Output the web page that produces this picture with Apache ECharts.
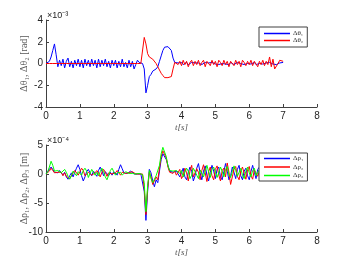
<!DOCTYPE html>
<html><head><meta charset="utf-8">
<script src="https://cdn.jsdelivr.net/npm/echarts@6/dist/echarts.min.js"></script>
<style>html,body{margin:0;padding:0;background:#fff}#c{width:350px;height:264px}</style>
</head><body><div id="c"></div>
<script>
// time step of samples (s)
const dt = 0.05;
const xTicks = [0,1,2,3,4,5,6,7,8];
const yTicksTop = [-4,-2,0,2,4];
const yTicksBottom = [-10,-5,0,5];
// Δθ (×10^-3 rad)
const theta1 = [
 0,0,0.2,0.6,1.2,1.8,0.8,-0.3,0.3,-0.2,
 0.4,-0.4,0.2,0.5,-0.3,0.2,-0.4,0.3,-0.2,0.4,
 -0.3,0.3,-0.4,0.4,-0.2,0.3,-0.3,0.4,-0.2,0.3,
 -0.4,0.4,-0.3,0.3,-0.2,0.4,-0.3,0.2,-0.4,0.3,
 -0.2,0.3,-0.4,0.2,-0.3,0.4,-0.3,0.1,-0.4,0.3,
 -0.3,0.2,-0.5,-0.1,0.3,0.1,0,0,-0.5,-2.7,
 -2.0,-1.2,-1.0,-0.7,-0.8,-0.5,-0.3,0.2,0.7,1.2,
 1.5,1.6,1.55,1.5,1.2,0.5,0.1,0,0.05,-0.05,
 0.1,-0.1,0.05,0.1,-0.1,0,0.1,-0.05,0.05,-0.1,
 0.05,0.1,-0.1,0,0.1,-0.05,0.05,-0.1,0.1,0,
 -0.05,0.1,-0.1,0.05,0,0.1,-0.05,0.05,-0.1,0.1,
 0,-0.1,0.05,0.1,-0.05,0,0.1,-0.1,0.05,0,
 0.1,-0.05,0,0.1,-0.1,0.05,0,0.1,-0.05,0,
 0.05,-0.1,0.1,0,-0.05,0.1,-0.1,0,0.05,0.1,
 0.1];
const theta2 = [
 0,0,0,0,0,0,0,0,0,0,
 0,0,0,0,0,0,0,0,0,0,
 0,0,0,0,0,0,0,0,0,0,
 0,0,0,0,0,0,0,0,0,0,
 0,0,0,0,0,0,0,0,0,0,
 0,0,0,0,0,0,0,0,2.4,1.8,
 0.9,0.6,0.5,0.4,0.3,0.0,-0.3,-0.6,-0.9,-1.1,
 -1.3,-1.35,-1.3,-1.4,-1.2,-0.5,0.1,0.2,-0.1,0.2,
 -0.2,0.3,-0.1,0.2,-0.3,0.1,0.3,-0.2,0.2,-0.1,
 0.3,-0.2,0.1,0.3,-0.3,0.2,0.1,-0.2,0.3,-0.1,
 0.2,-0.3,0.3,0.1,-0.2,0.3,-0.1,0.2,-0.3,0.2,
 0.1,-0.2,0.3,-0.1,0.2,-0.3,0.3,0.1,-0.2,0.2,
 -0.1,0.3,-0.2,0.2,0.1,-0.3,0.2,-0.1,0.3,-0.2,
 0.2,-0.1,0.6,-0.3,0.4,-0.5,-0.5,0.0,0.3,0.4,
 0.2];
// Δρ (×10^-4 m)
const rho1 = [
 0,0.3,0.8,1.2,0.8,0.3,0.5,0.2,0.6,0.4,
 -0.2,0.3,-0.5,-0.9,-0.3,0.2,-0.5,0.3,1.0,1.6,
 0.8,-0.3,-1.2,-0.5,0.4,0.8,0.2,-0.3,0.5,0.3,
 -0.4,0.6,1.2,0.5,-0.3,0.4,0.2,-0.3,0.3,-0.2,
 0.4,0.2,-0.2,0.8,1.6,0.9,0.2,0.4,0.1,0.3,
 0.5,0.3,0,0.1,0,-0.1,0,-0.2,-3,-8,
 -3,0.8,0.2,-1.2,-2.2,-1.0,-1.5,0.5,2.5,3.5,
 3.6,2.5,1.5,0.5,0.2,0.3,0.1,0.5,0,-0.5,
 0.2,1.0,-0.5,-1.0,0.3,1.2,0.5,-1.2,-0.3,1.0,
 1.8,0.2,-1.0,0.5,1.4,-0.2,-1.2,0.3,1.5,0.5,
 -0.8,0.8,1.2,-0.5,-1.0,0.4,1.8,0.5,-1.0,-0.3,
 1.2,0.3,-0.8,0.8,1.5,-0.3,-1.0,0.5,1.0,-0.3,
 -1.0,0.4,1.5,0.3,-0.8,0.8,1.2,0.2,-0.5,0.6,
 1.0,-0.4,-0.8,0.5,0.9,-0.2,-0.6,0.4,0.7,0,
 0.2];
const rho2 = [
 0,0.2,0.5,1.0,0.6,0.2,0.4,0.3,0.1,0.3,
 -0.3,0.2,-0.4,-0.2,-0.8,-0.3,0.2,0.6,0.3,-0.2,
 0.4,1.0,0.6,-0.3,-0.6,0.3,0.6,-0.2,-0.5,0.2,
 0.6,0.2,-0.5,0.3,0.8,0.3,-0.4,0.2,0.5,0,
 -0.3,0.2,0.6,0.2,-0.2,0.3,0.5,0.1,0.3,0.2,
 0.2,0.4,0.1,0,0.1,0,-0.1,0,-2.5,-7,
 -2.5,0.3,-0.5,-1.8,-2.0,-0.5,-1.0,1.0,3.0,4.0,
 4.0,2.8,1.2,0.3,0.4,0.1,0.5,-0.2,0.3,0.8,
 -0.8,-0.3,1.0,0.2,-1.2,0.5,1.5,-0.5,-0.8,0.9,
 0.3,-1.0,0.6,1.6,0.2,-1.3,0.4,1.2,-0.3,-1.0,
 0.8,1.4,-0.2,-1.2,0.6,1.0,-0.5,1.9,0.3,-1.8,
 -0.5,0.8,1.3,-0.4,-1.0,0.5,1.2,0.1,-0.9,0.7,
 1.3,-0.3,-0.9,0.7,1.0,-0.4,0.5,1.4,0.0,-0.8,
 0.4,1.1,-0.2,-0.7,0.6,0.8,-0.4,0.2,0.6,0,
 0.1];
const rho3 = [
 0,0.4,1.2,2.2,1.5,0.5,0.3,0.6,0.8,0.2,
 0.4,0.8,0.3,-0.4,-0.9,-0.3,0.5,0.2,-0.3,0.4,
 0.3,-0.2,0.6,1.0,0.5,-0.6,-0.3,0.8,0.5,-0.2,
 0.3,-0.3,0.4,1.0,0.3,-0.5,-1.0,-0.2,0.6,1.0,
 0.4,-0.2,0.2,0.5,0.3,-0.2,0.1,0.4,0.2,0.1,
 0.3,0.1,0.2,0,0,0.1,0,-0.1,-1.5,-6.5,
 -2.0,0.6,-0.8,-1.5,-1.6,-0.3,-0.6,1.5,3.5,4.6,
 4.4,3.0,1.4,0.6,0.3,0.5,0.2,0.6,0.8,0.1,
 0.6,-0.5,0.3,1.0,0.5,-0.8,-0.2,1.0,1.3,-0.2,
 -0.8,0.7,1.0,-0.5,-0.2,1.5,0.4,-0.6,0.8,1.2,
 0.3,-0.6,0.2,1.2,0.5,-0.5,0.8,1.3,-0.2,-0.6,
 0.4,1.4,0.6,-0.4,0.3,1.0,-0.2,-0.8,0.5,1.2,
 0.2,-0.5,0.6,1.0,-0.3,-0.2,0.8,0.5,-0.6,0.2,
 1.0,0.3,-0.5,0.2,0.8,0.0,-0.3,0.5,0.2,-0.1,
 0];
const names = ['Δθ₁','Δθ₂','Δρ₁','Δρ₂','Δρ₃'];
const colors = ['#0000ff','#ff0000','#0000ff','#ff0000','#00ff00'];

const pair = arr => arr.map((v,i)=>[+(i*dt).toFixed(2), v]);
const axCol = '#404040', txtCol = '#262626';
const serif = '"Liberation Serif","DejaVu Serif",serif';
const sans = '"Liberation Sans",Arial,sans-serif';

function xAx(gi){
  return {type:'value', gridIndex:gi, min:xTicks[0], max:xTicks[xTicks.length-1], interval:1,
    name:'t[s]', nameLocation:'middle', nameGap:16,
    nameTextStyle:{fontFamily:serif,fontSize:9,color:'#555',fontStyle:'italic'},
    axisLine:{onZero:false,lineStyle:{color:axCol,width:1}},
    axisTick:{inside:true,length:3,lineStyle:{color:axCol}},
    axisLabel:{fontFamily:sans,fontSize:10,color:txtCol,margin:4},
    splitLine:{show:false}};
}
function yAx(gi,ticks,name){
  return {type:'value', gridIndex:gi, min:ticks[0], max:ticks[ticks.length-1], interval:ticks[1]-ticks[0],
    name:name, nameLocation:'middle', nameGap:17, nameRotate:90, nameMoveOverlap:false,
    nameTextStyle:{fontFamily:serif,fontSize:10,color:'#555'},
    axisLine:{show:true,lineStyle:{color:axCol,width:1}},
    axisTick:{show:true,inside:true,length:3,lineStyle:{color:axCol}},
    axisLabel:{fontFamily:sans,fontSize:10,color:txtCol,margin:3},
    splitLine:{show:false}};
}
function ser(i,arr,xi){
  return {type:'line', name:names[i], xAxisIndex:xi, yAxisIndex:xi, data:pair(arr),
    showSymbol:false, symbol:'none', animation:false,
    lineStyle:{color:colors[i],width:1}, itemStyle:{color:colors[i]}};
}
const legendBase = {orient:'vertical', backgroundColor:'#fff', borderColor:'#404040', borderWidth:1,
  padding:[3,4,3,5], itemGap:0, itemWidth:26, itemHeight:1.5, icon:'rect',
  textStyle:{fontFamily:serif,fontSize:7,color:txtCol,padding:[0,0,0,-2]}};

const chart = echarts.init(document.getElementById('c'),null,{renderer:'canvas'});
chart.setOption({
  animation:false,
  grid:[{left:46,top:20,width:271,height:87},{left:46,top:145,width:271,height:87}],
  xAxis:[xAx(0),xAx(1)],
  yAxis:[yAx(0,yTicksTop,'Δθ₁, Δθ₂ [rad]'),yAx(1,yTicksBottom,'Δρ₁, Δρ₂, Δρ₃ [m]')],
  legend:[
    Object.assign({},legendBase,{data:[names[0],names[1]],left:259,top:27}),
    Object.assign({},legendBase,{data:[names[2],names[3],names[4]],left:259,top:153,itemGap:1.5,padding:[2,4,2,5]})
  ],
  graphic:[
    {type:'text',left:47,top:11,style:{text:'×10⁻³',fontFamily:sans,fontSize:9,fill:txtCol}},
    {type:'text',left:47,top:136,style:{text:'×10⁻⁴',fontFamily:sans,fontSize:9,fill:txtCol}}
  ],
  series:[ser(0,theta1,0),ser(1,theta2,0),ser(2,rho1,1),ser(3,rho2,1),ser(4,rho3,1)]
});
</script></body></html>
